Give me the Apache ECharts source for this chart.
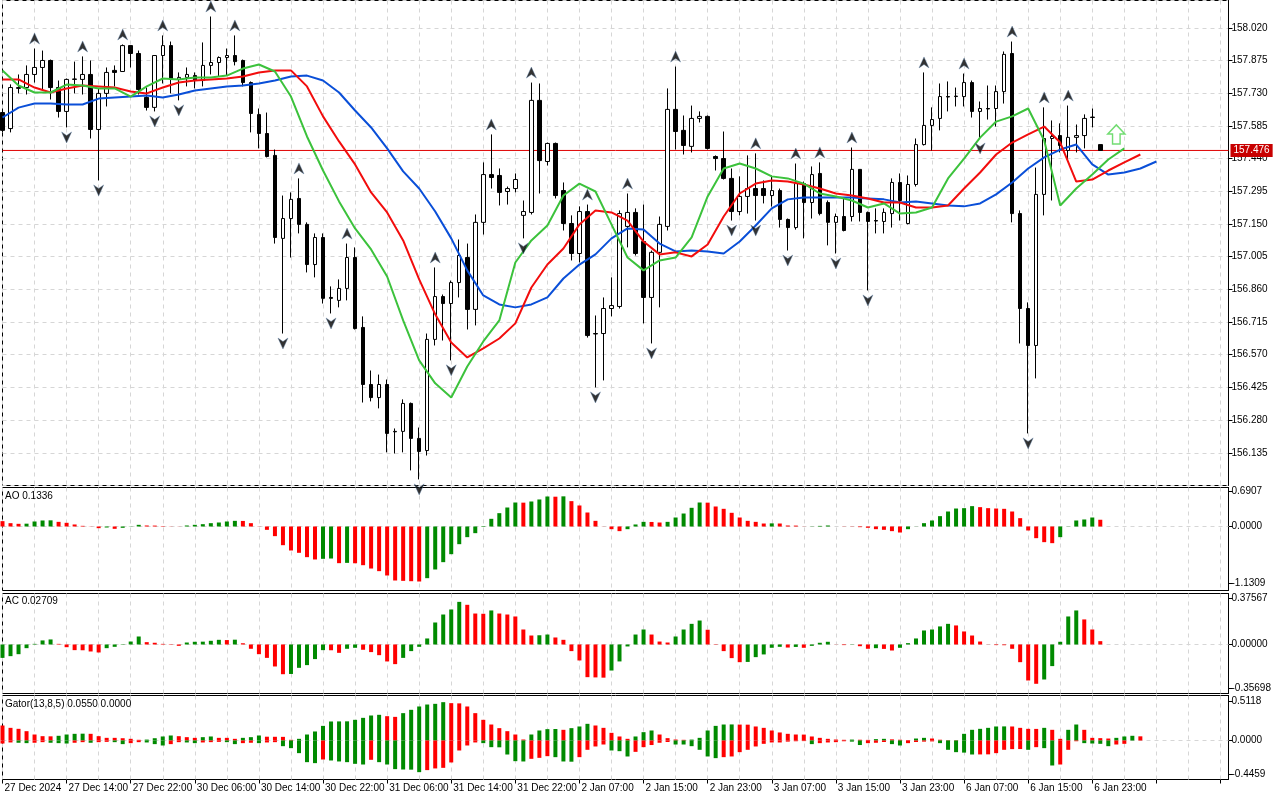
<!DOCTYPE html>
<html>
<head>
<meta charset="utf-8">
<title>USDJPY H1</title>
<script src="https://cdn.jsdelivr.net/npm/echarts@6/dist/echarts.min.js"></script>
<style>
html,body{margin:0;padding:0;background:#fff;}
#chart{width:1280px;height:800px;}
</style>
</head>
<body>
<div id="chart"></div>
<script>
// tick labels on the time axis, one every 8 bars
var timeLabels = ['27 Dec 2024','27 Dec 14:00','27 Dec 22:00','30 Dec 06:00','30 Dec 14:00','30 Dec 22:00',
  '31 Dec 06:00','31 Dec 14:00','31 Dec 22:00','2 Jan 07:00','2 Jan 15:00','2 Jan 23:00',
  '3 Jan 07:00','3 Jan 15:00','3 Jan 23:00','6 Jan 07:00','6 Jan 15:00','6 Jan 23:00'];

// [open, close, low, high]
var candles = [
[157.644,157.565,157.556,157.653],[157.573,157.755,157.556,157.769],[157.751,157.755,157.729,157.813],[157.755,157.813,157.724,157.853],
[157.813,157.844,157.777,157.928],[157.844,157.875,157.746,157.919],[157.875,157.755,157.702,157.879],[157.755,157.649,157.622,157.786],
[157.649,157.791,157.578,157.795],[157.791,157.793,157.729,157.870],[157.791,157.813,157.724,157.893],[157.813,157.569,157.529,157.875],
[157.569,157.729,157.343,157.751],[157.729,157.822,157.671,157.844],[157.831,157.822,157.760,157.853],[157.826,157.941,157.826,157.946],
[157.941,157.906,157.844,157.941],[157.906,157.746,157.724,157.919],[157.711,157.667,157.653,157.755],[157.667,157.897,157.649,157.897],
[157.897,157.941,157.773,157.986],[157.941,157.791,157.729,157.959],[157.791,157.800,157.698,157.822],[157.800,157.813,157.760,157.844],
[157.808,157.786,157.751,157.822],[157.786,157.853,157.760,157.955],[157.853,157.866,157.813,158.070],[157.866,157.888,157.804,157.893],
[157.888,157.897,157.808,157.928],[157.897,157.870,157.853,157.986],[157.875,157.777,157.760,157.879],[157.777,157.640,157.556,157.782],
[157.635,157.551,157.485,157.662],[157.551,157.449,157.445,157.644],[157.454,157.090,157.063,157.480],[157.086,157.174,156.664,157.276],
[157.174,157.259,157.001,157.290],[157.263,157.148,157.108,157.352],[157.148,156.970,156.935,157.157],[156.970,157.090,156.913,157.108],
[157.090,156.820,156.797,157.108],[156.824,156.820,156.753,156.873],[156.811,156.864,156.780,156.904],[156.864,157.001,156.811,157.063],
[157.001,156.686,156.682,157.046],[156.691,156.438,156.358,156.740],[156.438,156.380,156.363,156.500],[156.380,156.438,156.332,156.482],
[156.438,156.221,156.137,156.460],[156.230,156.228,156.132,156.243],[156.230,156.354,156.137,156.372],[156.354,156.199,156.057,156.358],
[156.199,156.141,156.017,156.247],[156.145,156.638,156.123,156.664],[156.638,156.828,156.611,156.957],[156.828,156.797,156.633,156.837],
[156.797,156.890,156.545,156.899],[156.890,157.010,156.824,157.081],[157.001,156.771,156.682,157.063],[156.771,157.157,156.700,157.192],
[157.157,157.369,157.103,157.423],[157.369,157.356,157.307,157.547],[157.365,157.290,157.232,157.396],[157.294,157.307,157.236,157.316],
[157.307,157.347,157.290,157.374],[157.188,157.205,157.086,157.254],[157.201,157.698,157.192,157.777],[157.698,157.431,157.285,157.773],
[157.427,157.507,157.409,157.511],[157.507,157.276,157.263,157.511],[157.298,157.152,157.121,157.334],[157.152,157.019,156.988,157.188],
[157.019,157.205,156.979,157.228],[157.205,156.655,156.646,157.236],[156.662,156.664,156.425,156.744],[156.664,156.775,156.456,156.824],
[156.775,156.788,156.740,156.913],[156.784,157.196,156.775,157.210],[157.139,157.201,157.046,157.285],[157.201,157.019,157.010,157.219],
[157.072,156.824,156.709,157.236],[156.824,157.024,156.620,157.032],[157.024,157.148,156.780,157.183],[157.139,157.658,157.121,157.751],
[157.658,157.560,157.480,157.848],[157.565,157.498,157.458,157.631],[157.494,157.618,157.467,157.675],[157.618,157.627,157.600,157.649],
[157.627,157.485,157.480,157.631],[157.449,157.440,157.387,157.454],[157.440,157.352,157.347,157.560],[157.352,157.205,157.165,157.396],
[157.205,157.272,157.188,157.361],[157.272,157.307,157.196,157.454],[157.307,157.276,157.165,157.463],[157.307,157.276,157.241,157.343],
[157.276,157.298,157.227,157.365],[157.298,157.170,157.134,157.307],[157.170,157.134,157.032,157.174],[157.134,157.329,157.125,157.418],
[157.329,157.245,157.086,157.338],[157.245,157.369,157.174,157.405],[157.374,157.196,157.188,157.423],[157.245,157.157,157.055,157.254],
[157.157,157.183,157.019,157.196],[157.183,157.121,157.117,157.267],[157.183,157.392,157.161,157.489],[157.392,157.201,157.161,157.392],
[157.201,157.161,156.855,157.205],[157.165,157.163,157.108,157.219],[157.161,157.201,157.108,157.219],[157.196,157.334,157.134,157.352],
[157.334,157.254,157.165,157.374],[157.152,157.325,157.148,157.365],[157.325,157.502,157.316,157.529],[157.502,157.587,157.498,157.822],
[157.587,157.613,157.476,157.667],[157.618,157.715,157.565,157.773],[157.715,157.713,157.649,157.782],[157.715,157.717,157.671,157.755],
[157.715,157.777,157.671,157.817],[157.777,157.649,157.622,157.786],[157.649,157.662,157.529,157.693],[157.662,157.660,157.613,157.764],
[157.662,157.737,157.582,157.764],[157.737,157.902,157.684,157.915],[157.906,157.196,157.157,157.959],[157.196,156.775,156.620,157.210],
[156.775,156.611,156.221,156.802],[156.611,157.281,156.465,157.400],[157.281,157.529,157.188,157.667],[157.529,157.538,157.254,157.609],
[157.542,157.498,157.467,157.596],[157.476,157.534,157.431,157.675],[157.534,157.542,157.467,157.591],[157.542,157.618,157.485,157.636],
[157.622,157.624,157.578,157.662],[157.502,157.476,157.476,157.502]
];

// bars carrying a fractal mark
var upFractals = [4,10,15,20,26,29,37,43,54,61,66,73,78,84,94,99,102,106,115,120,126,130,133];
var downFractals = [8,12,19,22,35,41,52,56,65,74,81,91,94,98,104,108,122,128];

// alligator lines, read every 2 bars starting at bar 0
var jawLine = [157.622,157.666,157.684,157.684,157.680,157.680,157.706,157.711,157.715,157.720,
  157.711,157.724,157.742,157.751,157.760,157.764,157.773,157.786,157.804,157.808,
  157.786,157.733,157.653,157.578,157.485,157.383,157.307,157.205,157.086,156.944,
  156.833,156.793,156.780,156.793,156.824,156.908,156.970,157.015,157.086,157.130,
  157.125,157.063,157.028,157.032,157.028,157.019,157.072,157.143,157.219,157.259,
  157.267,157.267,157.267,157.267,157.263,157.259,157.245,157.250,157.241,157.232,
  157.228,157.241,157.281,157.334,157.396,157.445,157.480,157.502,157.414,157.369,
  157.378,157.396,157.427];
var teethLine = [157.791,157.791,157.755,157.733,157.751,157.764,157.760,157.755,157.737,157.729,
  157.755,157.777,157.786,157.791,157.795,157.804,157.822,157.831,157.831,157.760,
  157.627,157.516,157.414,157.290,157.201,157.077,156.904,156.749,156.624,156.558,
  156.598,156.642,156.709,156.868,156.970,157.041,157.148,157.210,157.201,157.165,
  157.072,157.015,157.024,157.006,157.059,157.183,157.285,157.329,157.343,157.338,
  157.325,157.307,157.285,157.276,157.263,157.245,157.245,157.223,157.223,157.232,
  157.307,157.378,157.458,157.511,157.547,157.582,157.511,157.338,157.347,157.387,
  157.423,157.458];
var lipsLine = [157.831,157.764,157.733,157.733,157.768,157.764,157.751,157.751,157.715,157.760,
  157.795,157.791,157.800,157.800,157.808,157.839,157.857,157.826,157.715,157.538,
  157.387,157.250,157.130,157.037,156.917,156.722,156.545,156.443,156.380,156.518,
  156.629,156.722,156.979,157.077,157.143,157.276,157.329,157.294,157.148,157.001,
  156.944,156.988,157.001,157.090,157.272,157.396,157.418,157.396,157.361,157.352,
  157.329,157.285,157.272,157.254,157.223,157.241,157.196,157.201,157.223,157.352,
  157.440,157.533,157.604,157.627,157.662,157.520,157.232,157.307,157.369,157.436,
  157.485];

var aoValues = [0.106,0.066,0.053,0.056,0.099,0.119,0.122,0.092,0.073,0.040,
  0.013,-0.003,-0.033,-0.020,-0.046,-0.026,-0.004,0.033,0.020,0.018,
  0.008,0.003,-0.002,0.020,0.033,0.046,0.066,0.079,0.099,0.112,
  0.110,0.066,-0.003,-0.066,-0.191,-0.370,-0.475,-0.521,-0.607,-0.653,
  -0.640,-0.634,-0.726,-0.720,-0.728,-0.766,-0.832,-0.884,-0.970,-1.069,
  -1.076,-1.083,-1.089,-1.023,-0.851,-0.706,-0.548,-0.350,-0.211,-0.132,
  0.010,0.152,0.264,0.376,0.475,0.472,0.495,0.535,0.594,0.590,
  0.597,0.502,0.416,0.277,0.112,0.002,-0.053,-0.092,-0.053,0.040,
  0.092,0.090,0.079,0.092,0.178,0.257,0.370,0.475,0.472,0.396,
  0.350,0.271,0.178,0.112,0.092,0.059,0.062,0.059,0.020,0.018,
  -0.002,0.004,0.012,0.020,0.000,-0.003,-0.004,-0.013,-0.026,-0.053,
  -0.066,-0.092,-0.119,-0.053,-0.002,0.066,0.119,0.205,0.297,0.356,
  0.363,0.403,0.383,0.363,0.356,0.350,0.297,0.165,-0.079,-0.231,
  -0.310,-0.330,-0.211,-0.003,0.119,0.139,0.178,0.1336];

var acValues = [-0.109,-0.095,-0.079,-0.030,0.005,0.033,0.041,0.005,-0.022,-0.046,
  -0.047,-0.057,-0.065,-0.030,-0.019,-0.003,0.024,0.065,0.019,0.014,
  0.005,-0.003,-0.011,0.016,0.022,0.023,0.030,0.038,0.036,0.039,
  0.010,-0.035,-0.079,-0.109,-0.179,-0.242,-0.240,-0.190,-0.168,-0.119,
  -0.046,-0.047,-0.068,-0.035,-0.027,-0.043,-0.062,-0.087,-0.138,-0.160,
  -0.109,-0.054,-0.019,0.049,0.179,0.244,0.285,0.347,0.323,0.252,
  0.250,0.277,0.252,0.244,0.228,0.122,0.073,0.075,0.081,0.057,
  0.038,-0.054,-0.130,-0.266,-0.268,-0.270,-0.212,-0.138,-0.016,0.081,
  0.122,0.081,0.024,0.016,0.065,0.122,0.168,0.195,0.120,-0.003,
  -0.054,-0.111,-0.144,-0.142,-0.103,-0.081,-0.027,-0.019,-0.025,-0.020,
  -0.027,-0.011,0.014,0.022,-0.001,-0.005,-0.002,-0.014,-0.035,-0.030,
  -0.036,-0.049,-0.027,0.011,0.049,0.114,0.122,0.147,0.168,0.155,
  0.106,0.073,0.024,-0.001,-0.005,-0.006,-0.035,-0.144,-0.293,-0.320,
  -0.285,-0.176,0.022,0.228,0.277,0.204,0.122,0.02709];

var gatorUp = [0.198,0.167,0.154,0.123,0.079,0.057,0.055,0.062,0.079,0.088,
  0.090,0.088,0.057,0.035,0.035,0.030,0.022,0.009,0.012,0.030,
  0.053,0.066,0.057,0.044,0.035,0.044,0.053,0.035,0.035,0.022,
  0.035,0.044,0.066,0.050,0.049,0.048,0.009,0.022,0.079,0.119,
  0.193,0.251,0.252,0.253,0.273,0.299,0.330,0.339,0.321,0.312,
  0.361,0.405,0.449,0.475,0.484,0.506,0.493,0.490,0.449,0.361,
  0.273,0.211,0.163,0.123,0.079,0.013,0.079,0.132,0.150,0.152,
  0.141,0.163,0.185,0.220,0.198,0.167,0.101,0.053,0.022,0.053,
  0.110,0.132,0.079,0.031,0.013,0.009,0.012,0.035,0.132,0.193,
  0.211,0.212,0.210,0.209,0.185,0.167,0.132,0.106,0.088,0.079,
  0.078,0.053,0.035,0.022,0.013,0.009,0.012,0.010,0.008,0.018,
  0.022,0.015,0.010,0.005,0.026,0.035,0.026,0.010,0.005,0.004,
  0.088,0.141,0.154,0.167,0.185,0.186,0.185,0.167,0.154,0.153,
  0.167,0.141,0.022,0.141,0.211,0.141,0.035,0.031,0.026,0.035,
  0.053,0.062,0.0550];

var gatorDown = [-0.040,-0.026,-0.030,-0.035,-0.030,-0.022,-0.030,-0.035,-0.040,-0.030,
  -0.022,-0.030,-0.022,-0.018,-0.022,-0.048,-0.035,-0.022,-0.026,-0.048,
  -0.066,-0.048,-0.022,-0.026,-0.035,-0.026,-0.022,-0.018,-0.022,-0.048,
  -0.035,-0.030,-0.035,-0.026,-0.022,-0.075,-0.101,-0.167,-0.286,-0.299,
  -0.251,-0.264,-0.277,-0.286,-0.308,-0.317,-0.255,-0.286,-0.317,-0.378,
  -0.383,-0.385,-0.418,-0.391,-0.369,-0.361,-0.290,-0.132,-0.066,-0.026,
  -0.035,-0.088,-0.090,-0.185,-0.273,-0.277,-0.242,-0.229,-0.207,-0.220,
  -0.277,-0.280,-0.220,-0.123,-0.079,-0.053,-0.132,-0.141,-0.211,-0.150,
  -0.088,-0.060,-0.030,-0.020,-0.053,-0.053,-0.075,-0.123,-0.211,-0.233,
  -0.220,-0.211,-0.154,-0.123,-0.079,-0.044,-0.026,-0.026,-0.015,-0.010,
  -0.008,-0.048,-0.035,-0.026,-0.022,-0.010,-0.015,-0.060,-0.035,-0.030,
  -0.020,-0.048,-0.066,-0.035,-0.020,-0.015,-0.012,-0.035,-0.123,-0.154,
  -0.160,-0.185,-0.184,-0.183,-0.167,-0.123,-0.114,-0.113,-0.123,-0.088,
  -0.101,-0.330,-0.317,-0.123,-0.010,-0.035,-0.040,-0.044,-0.075,-0.053,
  -0.044,0,0];

var lastPrice = 157.476;
var signalBar = 139, signalPrice = 157.547;

var FONT = '"Liberation Sans", Arial, sans-serif';
var GREEN = '#008a00', RED = '#ff0000';
var GRIDC = '#d6d6d6';
var BARS = 154;
var cats = [];
for (var i = 0; i < BARS; i++) cats.push(String(i));

function stepPairs(arr) {
  var out = [];
  for (var k = 0; k < arr.length; k++) out.push([2 * k, arr[k]]);
  return out;
}
function trendColors(arr, first) {
  var c = [first];
  for (var k = 1; k < arr.length; k++) {
    if (arr[k] > arr[k - 1]) c.push(GREEN);
    else if (arr[k] < arr[k - 1]) c.push(RED);
    else c.push(c[k - 1]);
  }
  return c;
}
function absColors(arr, first) {
  var c = [first];
  for (var k = 1; k < arr.length; k++) {
    var a = Math.abs(arr[k]), b = Math.abs(arr[k - 1]);
    if (a > b) c.push(GREEN);
    else if (a < b) c.push(RED);
    else c.push(c[k - 1]);
  }
  return c;
}
var aoCol = trendColors(aoValues, RED);
var acCol = trendColors(acValues, GREEN);
var guCol = absColors(gatorUp, RED);
var gdCol = absColors(gatorDown, RED);

function xAxisFor(gi, withLabels) {
  return {
    type: 'category', gridIndex: gi, data: cats, boundaryGap: false, position: 'bottom',
    axisLine: { show: false, onZero: false },
    axisTick: { show: withLabels, interval: 7, length: 4, lineStyle: { color: '#000' } },
    axisLabel: {
      show: withLabels, interval: 7, align: 'left', margin: 4, padding: [0, 0, 0, 2],
      fontSize: 10, fontFamily: FONT, color: '#000',
      formatter: function (v, idx) { return timeLabels[idx / 8] || ''; }
    },
    splitLine: { show: true, interval: 3, lineStyle: { color: GRIDC, type: [4, 4] } }
  };
}
function subY(gi, min, max, marks, digits) {
  return {
    type: 'value', gridIndex: gi, position: 'right', min: min, max: max,
    axisLine: { show: true, onZero: false, lineStyle: { color: '#000' } },
    axisTick: { show: true, length: 4, customValues: marks, lineStyle: { color: '#000' } },
    axisLabel: { customValues: marks, margin: 3, fontSize: 10, fontFamily: FONT, color: '#000',
      formatter: function (v) { return v.toFixed(digits); } },
    splitLine: { show: false }
  };
}
// flat reference line across a pane (zero line / current price)
function flatLine(gi, value, style, z) {
  return { type: 'line', xAxisIndex: gi, yAxisIndex: gi, data: [[0, value], [BARS - 1, value]],
    showSymbol: false, silent: true, z: z, lineStyle: style };
}

var gridBase = { left: 2.5, right: 51.5, show: true, borderColor: '#000', borderWidth: 1, backgroundColor: '#fff' };
function grid(top, height) { return Object.assign({ top: top, height: height }, gridBase); }

var zeroStyle = { color: GRIDC, type: [4, 4], width: 1 };
var priceLine = flatLine(0, lastPrice, { color: '#e00000', width: 1 }, 2);
priceLine.endLabel = { show: true, distance: 2, formatter: lastPrice.toFixed(3), color: '#fff',
  backgroundColor: '#c80000', padding: [2, 3, 1, 3], fontSize: 10, fontFamily: FONT };

var chart = echarts.init(document.getElementById('chart'));
chart.setOption({
  animation: false,
  backgroundColor: '#fff',
  title: [
    { text: 'AO 0.1336', left: 5, top: 491, padding: 0, textStyle: { fontSize: 10, fontWeight: 'normal', fontFamily: FONT, color: '#000' } },
    { text: 'AC 0.02709', left: 5, top: 596, padding: 0, textStyle: { fontSize: 10, fontWeight: 'normal', fontFamily: FONT, color: '#000' } },
    { text: 'Gator(13,8,5) 0.0550 0.0000', left: 5, top: 699, padding: 0, textStyle: { fontSize: 10, fontWeight: 'normal', fontFamily: FONT, color: '#000' } }
  ],
  grid: [grid(0.5, 485), grid(487.5, 103), grid(593.5, 100), grid(695.5, 84)],
  xAxis: [xAxisFor(0, false), xAxisFor(1, false), xAxisFor(2, false), xAxisFor(3, true)],
  yAxis: [
    {
      type: 'value', gridIndex: 0, position: 'right', min: 155.990, max: 158.141, interval: 0.145,
      axisLine: { show: true, onZero: false, lineStyle: { color: '#000' } },
      axisTick: { show: true, length: 4, lineStyle: { color: '#000' } },
      axisLabel: { showMinLabel: false, showMaxLabel: false, margin: 3, fontSize: 10, fontFamily: FONT, color: '#000',
        formatter: function (v) { return v.toFixed(3); } },
      splitLine: { show: true, lineStyle: { color: GRIDC, type: [4, 4] } }
    },
    subY(1, -1.267, 0.772, [0.6907, 0, -1.1309], 4),
    subY(2, -0.399, 0.415, [0.37567, 0, -0.35698], 5),
    subY(3, -0.515, 0.594, [0.5118, 0, -0.4459], 4)
  ],
  series: [
    flatLine(1, 0, zeroStyle, 1),
    flatLine(2, 0, zeroStyle, 1),
    flatLine(3, 0, zeroStyle, 1),
    priceLine,
    {
      type: 'candlestick', xAxisIndex: 0, yAxisIndex: 0, data: candles, barWidth: 4, z: 2,
      itemStyle: { color: '#fff', color0: '#000', borderColor: '#000', borderColor0: '#000', borderWidth: 1 }
    },
    { type: 'line', xAxisIndex: 0, yAxisIndex: 0, data: stepPairs(jawLine), showSymbol: false, z: 3,
      lineStyle: { color: '#0a4fd8', width: 2 } },
    { type: 'line', xAxisIndex: 0, yAxisIndex: 0, data: stepPairs(teethLine), showSymbol: false, z: 3,
      lineStyle: { color: '#f20d0d', width: 2 } },
    { type: 'line', xAxisIndex: 0, yAxisIndex: 0, data: stepPairs(lipsLine), showSymbol: false, z: 3,
      lineStyle: { color: '#3cc23c', width: 2 } },
    { type: 'scatter', xAxisIndex: 0, yAxisIndex: 0, z: 4,
      data: upFractals.map(function (b) { return [b, candles[b][3]]; }),
      symbol: 'path://M5,0L10,11L5,7.5L0,11Z', symbolSize: [10, 11], symbolOffset: [0, -10],
      itemStyle: { color: '#000', borderColor: '#5d7fa8', borderWidth: 0.5 } },
    { type: 'scatter', xAxisIndex: 0, yAxisIndex: 0, z: 4,
      data: downFractals.map(function (b) { return [b, candles[b][2]]; }),
      symbol: 'path://M0,0L5,3.5L10,0L5,11Z', symbolSize: [10, 11], symbolOffset: [0, 10],
      itemStyle: { color: '#000', borderColor: '#5d7fa8', borderWidth: 0.5 } },
    { type: 'scatter', xAxisIndex: 0, yAxisIndex: 0, z: 5, data: [[signalBar, signalPrice]],
      symbol: 'path://M9,0L18,9L13,9L13,19L5,19L5,9L0,9Z', symbolSize: [17, 19],
      itemStyle: { color: '#ffffff', borderColor: '#4fd34f', borderWidth: 1.5 } },
    { type: 'bar', xAxisIndex: 1, yAxisIndex: 1, data: aoValues, barWidth: 4, z: 2,
      itemStyle: { color: function (p) { return aoCol[p.dataIndex]; } } },
    { type: 'bar', xAxisIndex: 2, yAxisIndex: 2, data: acValues, barWidth: 4, z: 2,
      itemStyle: { color: function (p) { return acCol[p.dataIndex]; } } },
    { type: 'bar', xAxisIndex: 3, yAxisIndex: 3, data: gatorUp, barWidth: 4, barGap: '-100%', z: 2,
      itemStyle: { color: function (p) { return guCol[p.dataIndex]; } } },
    { type: 'bar', xAxisIndex: 3, yAxisIndex: 3, data: gatorDown, barWidth: 4, barGap: '-100%', z: 2,
      itemStyle: { color: function (p) { return gdCol[p.dataIndex]; } } }
  ]
});
</script>
</body>
</html>
